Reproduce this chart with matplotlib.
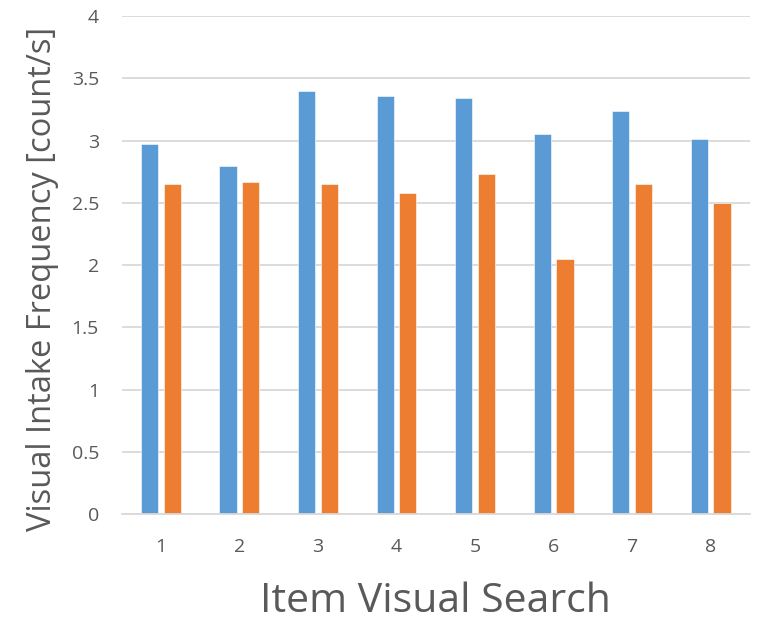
import numpy as np
import matplotlib
matplotlib.use('Agg')
import matplotlib.pyplot as plt

plt.rcParams['font.family'] = ['Open Sans', 'DejaVu Sans']

items = ['1', '2', '3', '4', '5', '6', '7', '8']
series_blue = [2.97, 2.80, 3.40, 3.36, 3.34, 3.05, 3.24, 3.01]
series_orange = [2.65, 2.67, 2.65, 2.58, 2.73, 2.05, 2.65, 2.50]
y_ticks = [0, 0.5, 1, 1.5, 2, 2.5, 3, 3.5, 4]
y_tick_labels = ['0', '0.5', '1', '1.5', '2', '2.5', '3', '3.5', '4']

color_blue = '#5B9BD5'
color_orange = '#ED7D31'
color_grid = '#D9D9D9'
color_text = '#595959'

fig = plt.figure(figsize=(7.66, 6.23), dpi=100)
ax = fig.add_axes([0.1587, 0.175, 0.8203, 0.799])

x = np.arange(len(items))
width = 0.22
offset = 0.144
ax.bar(x - offset, series_blue, width, color=color_blue, edgecolor='white', linewidth=0.4, zorder=3)
ax.bar(x + offset, series_orange, width, color=color_orange, edgecolor='white', linewidth=0.4, zorder=3)

ax.set_xlim(-0.5, len(items) - 0.5)
ax.set_ylim(0, 4)
ax.set_yticks(y_ticks)
ax.set_yticklabels(y_tick_labels)
ax.set_xticks(x)
ax.set_xticklabels(items)

# horizontal gridlines only, light grey like the baseline
ax.yaxis.grid(True, color=color_grid, linewidth=1.3, zorder=0)
for side in ['top', 'right', 'left']:
    ax.spines[side].set_visible(False)
ax.spines['bottom'].set_color(color_grid)
ax.spines['bottom'].set_linewidth(1.3)
ax.spines['bottom'].set_zorder(4)

ax.tick_params(axis='both', length=0, labelsize=14, colors=color_text)
ax.tick_params(axis='x', pad=17)
ax.tick_params(axis='y', pad=16.3)

# axis titles placed on their baselines
fig.text(0.5687, 1 - 612 / 623, 'Item Visual Search', fontsize=29.5, color=color_text,
         ha='center', va='baseline')
fig.text(51 / 766, 1 - 279 / 623, 'Visual Intake Frequency [count/s]', fontsize=23.5,
         color=color_text, rotation=90, rotation_mode='anchor', ha='center', va='baseline')

fig.savefig('out.png', dpi=100)
